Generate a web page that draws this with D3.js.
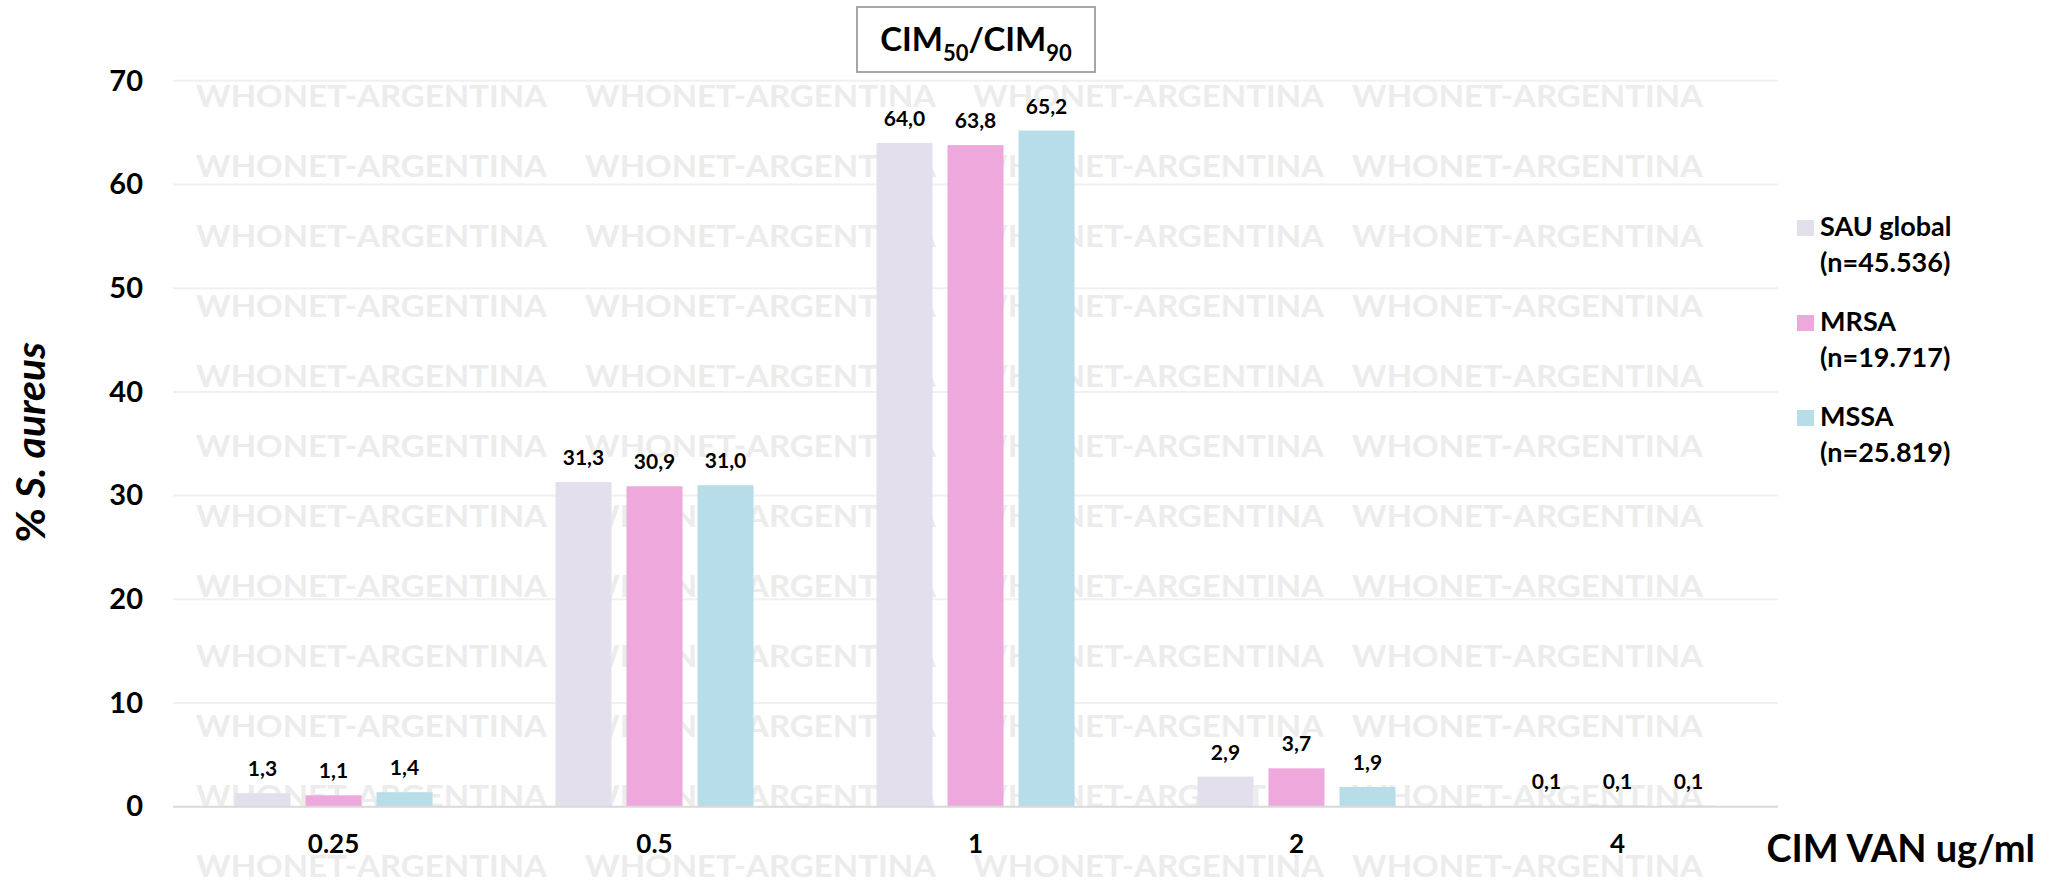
<html>
<head>
<script src="https://d3js.org/d3.v7.min.js"></script>
<style>
body { margin: 0; background: #fff; }
svg { display: block; font-family: Lato, 'Liberation Sans', sans-serif; font-weight: bold; }
</style>
</head>
<body>
<svg></svg>
<script>

var width = 2049;
var height = 880;

// data
var categories = ["0.25", "0.5", "1", "2", "4"];
var seriesNames = ["SAU global", "MRSA", "MSSA"];
var seriesCounts = ["(n=45.536)", "(n=19.717)", "(n=25.819)"];
var sauGlobal = [1.3, 31.3, 64.0, 2.9, 0.1];
var mrsa = [1.1, 30.9, 63.8, 3.7, 0.1];
var mssa = [1.4, 31.0, 65.2, 1.9, 0.1];
var yTicks = [0, 10, 20, 30, 40, 50, 60, 70];
var colors = ["#e4dfec", "#efa8dc", "#b7dde8"];

var values = [sauGlobal, mrsa, mssa];

var svg = d3.select("svg").attr("width", width).attr("height", height);
svg.append("rect").attr("width", width).attr("height", height).style("fill", "#fff");

var xScale = d3.scaleBand()
	.domain(categories)
	.range([173, 1778])
	.paddingInner(0.383)
	.paddingOuter(0.1915);

var xInner = d3.scaleBand()
	.domain(seriesNames)
	.range([0, xScale.bandwidth()])
	.paddingInner(0.211);

var yScale = d3.scaleLinear()
	.domain([0, 70])
	.range([806.7, 80.8]);

// gridlines
svg.append("g").selectAll("line").data(yTicks.slice(1)).enter().append("line")
	.attr("x1", 173).attr("x2", 1778)
	.attr("y1", function (d) { return yScale(d); })
	.attr("y2", function (d) { return yScale(d); })
	.style("stroke", "#f0f0f0")
	.style("stroke-width", 2);

// watermark, behind the bars
var wmCols = [196, 585, 973, 1352];
var wmRows = d3.range(12);
var wm = svg.append("g");
wmRows.forEach(function (r) {
	wmCols.forEach(function (c) {
		wm.append("text")
			.attr("x", c)
			.attr("y", 106.7 + r * 70)
			.attr("textLength", 351)
			.attr("lengthAdjust", "spacingAndGlyphs")
			.style("font-size", "30px")
			.style("fill", "#ececec")
			.text("WHONET-ARGENTINA");
	});
});

// bars
var groups = svg.append("g").selectAll("g").data(seriesNames).enter().append("g");

groups.selectAll("rect")
	.data(function (s, i) { return categories.map(function (c, j) { return { s: s, i: i, c: c, v: values[i][j] }; }); })
	.enter().append("rect")
	.attr("x", function (d) { return xScale(d.c) + xInner(d.s); })
	.attr("width", xInner.bandwidth())
	.attr("y", function (d) { return yScale(d.v); })
	.attr("height", function (d) { return yScale(0) - yScale(d.v); })
	.style("fill", function (d) { return colors[d.i]; });

var fmt = d3.format(".1f");
groups.selectAll("text.val")
	.data(function (s, i) { return categories.map(function (c, j) { return { s: s, i: i, c: c, v: values[i][j] }; }); })
	.enter().append("text")
	.attr("class", "val")
	.attr("x", function (d) { return xScale(d.c) + xInner(d.s) + xInner.bandwidth() / 2; })
	.attr("y", function (d) { return yScale(d.v) - 17; })
	.attr("text-anchor", "middle")
	.style("font-size", "21px")
	.text(function (d) { return fmt(d.v).replace(".", ","); });

// baseline
svg.append("line")
	.attr("x1", 173).attr("x2", 1778)
	.attr("y1", yScale(0)).attr("y2", yScale(0))
	.style("stroke", "#d9d9d9")
	.style("stroke-width", 2);

// y axis
var yAxis = svg.append("g")
	.attr("transform", "translate(173,0)")
	.call(d3.axisLeft(yScale).tickValues(yTicks).tickSize(0).tickPadding(30));
yAxis.select(".domain").remove();
yAxis.selectAll("text")
	.style("font-family", "Lato, sans-serif")
	.style("font-size", "29px")
	.style("font-weight", "bold")
	.style("fill", "#000");

// x axis
var xAxis = svg.append("g")
	.attr("transform", "translate(0," + yScale(0) + ")")
	.call(d3.axisBottom(xScale).tickSize(0));
xAxis.select(".domain").remove();
xAxis.selectAll("text")
	.attr("y", 46).attr("dy", null)
	.style("font-family", "Lato, sans-serif")
	.style("font-size", "26px")
	.style("font-weight", "bold")
	.style("fill", "#000");

// axis titles
var yTitle = svg.append("text")
	.attr("transform", "translate(45,442) rotate(-90)")
	.attr("text-anchor", "middle")
	.style("font-size", "41px");
yTitle.append("tspan").text("% ");
yTitle.append("tspan").style("font-style", "italic").text("S. aureus");

svg.append("text")
	.attr("x", 2035).attr("y", 862)
	.attr("text-anchor", "end")
	.style("font-size", "38px")
	.text("CIM VAN ug/ml");

// title box
svg.append("rect")
	.attr("x", 857).attr("y", 7)
	.attr("width", 238).attr("height", 65)
	.style("fill", "#fff")
	.style("stroke", "#a6a6a6")
	.style("stroke-width", 2);
var title = svg.append("text")
	.attr("x", 976).attr("y", 51)
	.attr("text-anchor", "middle")
	.style("font-size", "33px");
title.append("tspan").text("CIM");
title.append("tspan").attr("dy", 10).style("font-size", "22px").text("50");
title.append("tspan").attr("dy", -10).text("/CIM");
title.append("tspan").attr("dy", 10).style("font-size", "22px").text("90");

// legend
var legend = svg.append("g").selectAll("g").data(seriesNames).enter().append("g")
	.attr("transform", function (d, i) { return "translate(1797," + (236 + i * 95) + ")"; });
legend.append("rect")
	.attr("x", 0).attr("y", -16)
	.attr("width", 17).attr("height", 16)
	.style("fill", function (d, i) { return colors[i]; });
legend.append("text")
	.attr("x", 23).attr("y", 0)
	.style("font-size", "27px")
	.text(function (d) { return d; });
legend.append("text")
	.attr("x", 23).attr("y", 36)
	.style("font-size", "27px")
	.text(function (d, i) { return seriesCounts[i]; });

</script>
</body>
</html>
